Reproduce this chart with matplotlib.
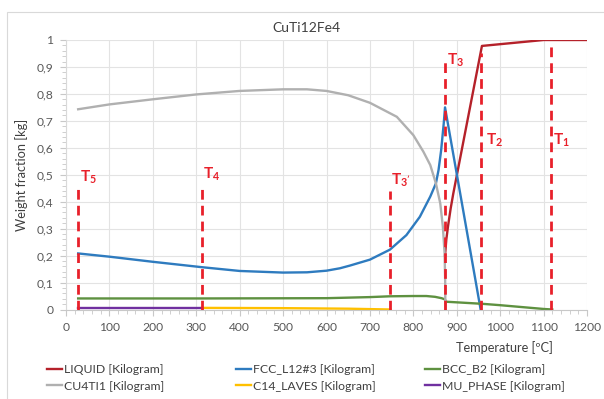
import matplotlib
matplotlib.use("Agg")
import matplotlib.pyplot as plt
from matplotlib.ticker import MultipleLocator, FuncFormatter
from matplotlib.patches import Rectangle

plt.rcParams['font.family'] = ['Lato', 'DejaVu Sans']
plt.rcParams['mathtext.fontset'] = 'custom'
plt.rcParams['mathtext.rm'] = 'Lato'
plt.rcParams['mathtext.bf'] = 'Lato:bold'

# ---- data ----
T_liquid = [873, 876, 880, 886, 892, 958, 1100, 1200]
liquid = [0.20, 0.26, 0.31, 0.375, 0.43, 0.978, 1.0, 1.0]

T_fcc = [28, 100, 200, 313, 400, 500, 555, 600, 631, 654, 700, 746, 784, 815, 839, 852,
         858, 864, 870, 873, 955]
fcc = [0.208, 0.196, 0.177, 0.157, 0.143, 0.137, 0.138, 0.144, 0.153, 0.163, 0.185, 0.222,
       0.276, 0.344, 0.419, 0.468, 0.517, 0.59, 0.69, 0.75, 0.0]

T_bcc = [28, 310, 600, 700, 746, 800, 830, 850, 865, 872, 873.5, 874, 960, 1000, 1050, 1100, 1120]
bcc = [0.041, 0.041, 0.042, 0.046, 0.049, 0.050, 0.050, 0.047, 0.042, 0.038, 0.036, 0.029,
       0.021, 0.016, 0.009, 0.002, 0.0]

T_cu = [28, 100, 200, 300, 400, 500, 555, 600, 650, 700, 762, 800, 823, 839, 852, 862, 868,
        872, 873.3, 873.8]
cu = [0.743, 0.761, 0.780, 0.798, 0.811, 0.817, 0.817, 0.811, 0.795, 0.767, 0.715, 0.647,
      0.586, 0.536, 0.468, 0.394, 0.307, 0.209, 0.11, 0.0]

T_c14 = [313, 500, 650, 747]
c14 = [0.006, 0.005, 0.003, 0.0]

T_mu = [28, 313]
mu = [0.007, 0.007]

series_names = ["LIQUID [Kilogram]", "FCC_L12#3 [Kilogram]", "BCC_B2 [Kilogram]",
                "CU4TI1 [Kilogram]", "C14_LAVES [Kilogram]", "MU_PHASE [Kilogram]"]

marker_T = [27, 313, 747, 873, 957, 1116]
marker_top = [0.45, 0.45, 0.44, 0.925, 0.95, 0.99]
marker_labels = [r"$\mathbf{T_5}$", r"$\mathbf{T_4}$", r"$\mathbf{T_{3'}}$",
                 r"$\mathbf{T_3}$", r"$\mathbf{T_2}$", r"$\mathbf{T_1}$"]
label_x = [32, 316, 749, 877, 967, 1122]
label_y = [0.49, 0.50, 0.48, 0.925, 0.628, 0.628]

# ---- figure ----
fig = plt.figure(figsize=(6.04, 3.99), dpi=100)
fig.patches.append(Rectangle((7/604, -0.1), 1.2, 1 - 12/399 + 0.1, transform=fig.transFigure,
                             fill=False, edgecolor='#D9D9D9', linewidth=0.8))
ax = fig.add_axes([66/604, 1 - 309.5/399, (587 - 66)/604, (309.5 - 40)/399])

colors = ['#B5212A', '#2E7BBF', '#5E9140', '#B0B0B0', '#FFC000', '#7030A0']
lw = 1.7
l1, = ax.plot(T_liquid, liquid, color=colors[0], lw=lw)
l2, = ax.plot(T_fcc, fcc, color=colors[1], lw=lw)
l3, = ax.plot(T_bcc, bcc, color=colors[2], lw=lw)
l4, = ax.plot(T_cu, cu, color=colors[3], lw=lw)
l5, = ax.plot(T_c14, c14, color=colors[4], lw=lw)
l6, = ax.plot(T_mu, mu, color=colors[5], lw=lw)

for x, top, lab, lx, ly in zip(marker_T, marker_top, marker_labels, label_x, label_y):
    ax.plot([x, x], [0, top], color='#E8202A', lw=2.0, dashes=(3.5, 2.2), zorder=5)
    ax.text(lx, ly, lab, color='#E8202A', fontsize=11, ha='left', va='center', zorder=6)

ax.set_xlim(0, 1200)
ax.set_ylim(0, 1)
ax.xaxis.set_major_locator(MultipleLocator(100))
ax.xaxis.set_minor_locator(MultipleLocator(20))
ax.yaxis.set_major_locator(MultipleLocator(0.1))
ax.yaxis.set_minor_locator(MultipleLocator(0.02))

def yfmt(v, pos):
    if abs(v) < 1e-9:
        return "0"
    if abs(v - 1) < 1e-9:
        return "1"
    return f"{v:.1f}".replace('.', ',')

ax.yaxis.set_major_formatter(FuncFormatter(yfmt))
ax.grid(True, which='major', color='#E3E3E3', lw=0.8)
ax.set_axisbelow(True)
for s in ['top', 'right']:
    ax.spines[s].set_visible(False)
ax.spines['left'].set_color('#D9D9D9')
ax.spines['bottom'].set_color('#C8C8C8')
ax.tick_params(which='both', direction='out', color='#C8C8C8', labelcolor='#595959', labelsize=8.7)
ax.tick_params(which='major', length=4)
ax.tick_params(which='minor', length=3)
ax.tick_params(axis='y', pad=5)
ax.tick_params(axis='x', pad=5)

fig.text(306/604, 1 - 28/399, "CuTi12Fe4", ha='center', va='center', fontsize=10, color='#404040')
fig.text(504/604, 1 - 348/399, "Temperature [ºC]", ha='center', va='center', fontsize=9.2, color='#404040')
fig.text(22/604, 1 - 175/399, "Weight fraction [kg]", ha='center', va='center', rotation=90,
         fontsize=9.2, color='#404040')

handles = [l1, l2, l3, l4, l5, l6]
col_x = [47, 236, 425]
for c in range(3):
    leg = fig.legend([handles[c], handles[c + 3]], [series_names[c], series_names[c + 3]],
                     loc='upper left', bbox_to_anchor=(col_x[c]/604, 1 - 364/399),
                     frameon=False, fontsize=8.8, handlelength=1.25, handletextpad=0.15,
                     labelspacing=0.45, borderpad=0, borderaxespad=0)
    for t in leg.get_texts():
        t.set_color('#404040')

fig.savefig("out.png", dpi=100)
